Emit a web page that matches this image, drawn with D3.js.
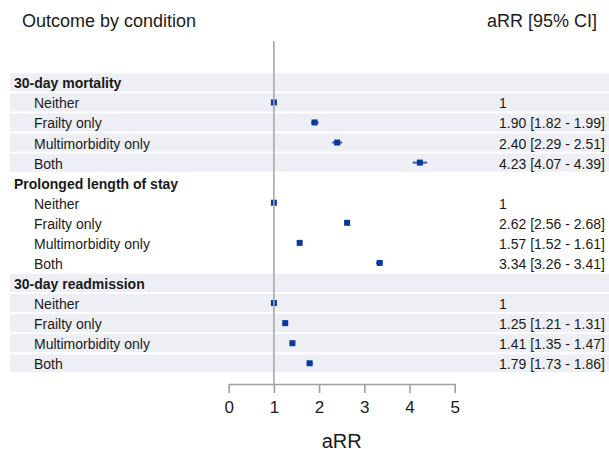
<!DOCTYPE html>
<html><head><meta charset="utf-8">
<script src="https://cdn.jsdelivr.net/npm/d3@7"></script>
<style>body{margin:0;background:#fff}svg{display:block;font-family:"Liberation Sans",Arial,sans-serif}</style>
</head><body>
<svg id="chart" width="609" height="449"></svg>
<script>
const outcomes = ["30-day mortality", "Prolonged length of stay", "30-day readmission"];
const conditions = ["Neither", "Frailty only", "Multimorbidity only", "Both"];
const estimates = [[1, 1.90, 2.40, 4.23], [1, 2.62, 1.57, 3.34], [1, 1.25, 1.41, 1.79]];
const lower = [[null, 1.82, 2.29, 4.07], [null, 2.56, 1.52, 3.26], [null, 1.21, 1.35, 1.73]];
const upper = [[null, 1.99, 2.51, 4.39], [null, 2.68, 1.61, 3.41], [null, 1.31, 1.47, 1.86]];
const xTicks = [0, 1, 2, 3, 4, 5];

const rows = [];
outcomes.forEach((o, gi) => {
  rows.push({key: "h" + gi, type: "header", label: o, group: gi});
  conditions.forEach((c, ci) => {
    const est = estimates[gi][ci], lo = lower[gi][ci], hi = upper[gi][ci];
    rows.push({key: gi + "-" + ci, type: "item", label: c, group: gi, est, lo, hi,
      text: lo == null ? String(est) : `${est.toFixed(2)} [${lo.toFixed(2)} - ${hi.toFixed(2)}]`});
  });
});

const svg = d3.select("#chart");
const x = d3.scaleLinear().domain([0, 5]).range([228.7, 454.7]);
const y = d3.scaleBand().domain(rows.map(r => r.key)).range([73.3, 374.3]).padding(0);
const step = y.step();
const textColor = "#1a1a1a";

// shaded bands
svg.append("g").selectAll("rect").data(rows.filter(r => r.group !== 1)).join("rect")
  .attr("x", 10).attr("width", 599)
  .attr("y", r => y(r.key)).attr("height", step - 2)
  .attr("fill", "#eeeff5");

// labels
svg.append("g").selectAll("text").data(rows).join("text")
  .attr("x", r => r.type === "header" ? 14 : 34)
  .attr("y", r => y(r.key) + step / 2 + 5)
  .attr("font-size", 14)
  .attr("font-weight", r => r.type === "header" ? "bold" : "normal")
  .attr("fill", textColor)
  .text(r => r.label);

// values
svg.append("g").selectAll("text").data(rows.filter(r => r.type === "item")).join("text")
  .attr("x", 499)
  .attr("y", r => y(r.key) + step / 2 + 5)
  .attr("font-size", 14).attr("fill", textColor)
  .text(r => r.text);

// CI lines
const items = rows.filter(r => r.type === "item");
svg.append("g").selectAll("line").data(items.filter(r => r.lo != null)).join("line")
  .attr("x1", r => x(r.lo)).attr("x2", r => x(r.hi))
  .attr("y1", r => y(r.key) + step / 2 - 1).attr("y2", r => y(r.key) + step / 2 - 1)
  .attr("stroke", "#3a5fb5").attr("stroke-width", 2);

// markers
svg.append("g").selectAll("rect").data(items).join("rect")
  .attr("x", r => x(r.est) - 3).attr("width", 6)
  .attr("y", r => y(r.key) + step / 2 - 4).attr("height", 6)
  .attr("fill", "#0a3a9e");

// reference line
svg.append("line")
  .attr("x1", x(1)).attr("x2", x(1)).attr("y1", 41).attr("y2", 384)
  .attr("stroke", "#a8a8a8").attr("stroke-width", 1.6);

// axis
const axisG = svg.append("g").attr("transform", "translate(0,384)")
  .call(d3.axisBottom(x).tickValues(xTicks).tickSize(9).tickPadding(8).tickSizeOuter(0).tickFormat(d3.format("d")));
axisG.select(".domain").attr("stroke", "#a0a0a0").attr("stroke-width", 1.6);
axisG.selectAll(".tick line").attr("stroke", "#a0a0a0").attr("stroke-width", 1.6);
axisG.selectAll(".tick text").attr("font-size", 17).attr("fill", textColor)
  .attr("font-family", "'Liberation Sans',Arial,sans-serif");

svg.append("text").attr("x", x(2.5)).attr("y", 448).attr("text-anchor", "middle")
  .attr("font-size", 20).attr("fill", textColor).text("aRR");

// titles
svg.append("text").attr("x", 22).attr("y", 27).attr("font-size", 18).attr("fill", textColor)
  .text("Outcome by condition");
svg.append("text").attr("x", 597).attr("y", 27).attr("text-anchor", "end").attr("font-size", 18).attr("fill", textColor)
  .text("aRR [95% CI]");
</script>
</body></html>
